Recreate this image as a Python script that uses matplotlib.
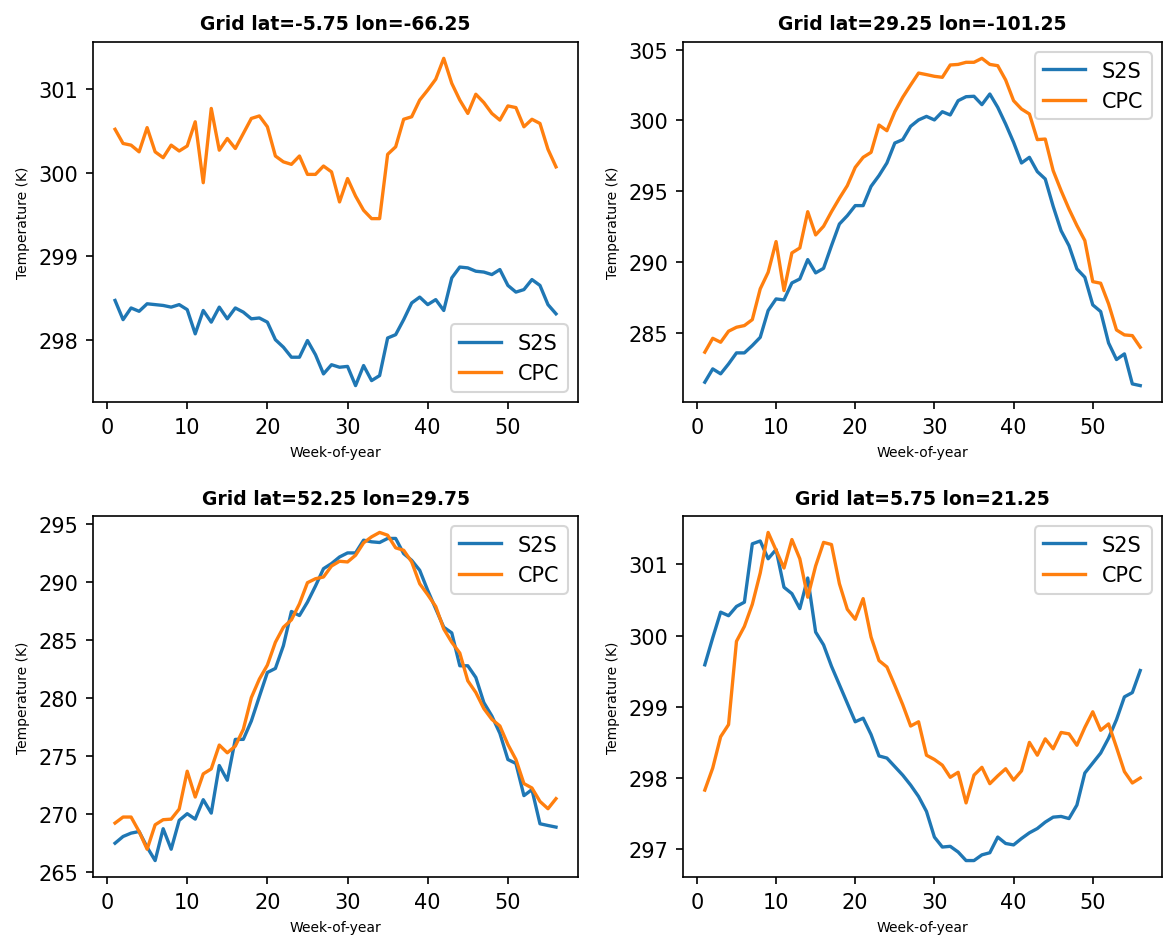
import numpy as np
import matplotlib
matplotlib.use("Agg")
import matplotlib.pyplot as plt

weeks = np.arange(1, 57)

titles = [
    "Grid lat=-5.75 lon=-66.25",
    "Grid lat=29.25 lon=-101.25",
    "Grid lat=52.25 lon=29.75",
    "Grid lat=5.75 lon=21.25",
]

# grid 1
s2s_1 = [298.47, 298.24, 298.38, 298.34, 298.43, 298.42, 298.41, 298.39, 298.42, 298.36,
         298.07, 298.35, 298.21, 298.39, 298.25, 298.38, 298.33, 298.25, 298.26, 298.21,
         298.00, 297.91, 297.79, 297.79, 297.99, 297.82, 297.59, 297.70, 297.67, 297.68,
         297.45, 297.69, 297.51, 297.57, 298.02, 298.06, 298.24, 298.44, 298.51, 298.42,
         298.48, 298.35, 298.74, 298.87, 298.86, 298.82, 298.81, 298.78, 298.84, 298.65,
         298.57, 298.60, 298.72, 298.65, 298.42, 298.31]
cpc_1 = [300.52, 300.35, 300.33, 300.25, 300.54, 300.25, 300.18, 300.33, 300.26, 300.32,
         300.61, 299.88, 300.77, 300.27, 300.41, 300.29, 300.47, 300.65, 300.68, 300.55,
         300.20, 300.13, 300.10, 300.20, 299.98, 299.98, 300.08, 300.01, 299.65, 299.93,
         299.72, 299.55, 299.45, 299.45, 300.22, 300.31, 300.64, 300.67, 300.87, 300.99,
         301.12, 301.37, 301.07, 300.87, 300.71, 300.94, 300.84, 300.71, 300.63, 300.80,
         300.78, 300.55, 300.64, 300.59, 300.28, 300.07]

# grid 2
s2s_2 = [281.52, 282.46, 282.11, 282.81, 283.59, 283.59, 284.11, 284.69, 286.58, 287.40,
         287.33, 288.53, 288.81, 290.18, 289.24, 289.56, 291.16, 292.69, 293.28, 293.99,
         293.99, 295.35, 296.11, 297.00, 298.41, 298.65, 299.59, 300.04, 300.29, 300.04,
         300.62, 300.39, 301.40, 301.68, 301.71, 301.12, 301.87, 300.93, 299.75, 298.46,
         297.00, 297.40, 296.39, 295.87, 293.94, 292.22, 291.16, 289.52, 288.93, 286.98,
         286.51, 284.29, 283.12, 283.52, 281.40, 281.28]
cpc_2 = [283.64, 284.62, 284.34, 285.12, 285.40, 285.52, 285.94, 288.11, 289.28, 291.45,
         287.99, 290.65, 291.00, 293.56, 291.92, 292.53, 293.56, 294.51, 295.40, 296.69,
         297.40, 297.75, 299.68, 299.28, 300.62, 301.64, 302.51, 303.35, 303.24, 303.12,
         303.05, 303.92, 303.96, 304.11, 304.11, 304.39, 303.96, 303.87, 302.86, 301.40,
         300.81, 300.46, 298.65, 298.69, 296.46, 295.05, 293.75, 292.58, 291.52, 288.62,
         288.51, 287.05, 285.21, 284.86, 284.81, 283.99]

# grid 3
s2s_3 = [267.46, 268.04, 268.33, 268.47, 267.11, 265.96, 268.71, 266.94, 269.43, 270.01,
         269.54, 271.22, 270.06, 274.17, 272.90, 276.43, 276.43, 278.02, 280.13, 282.21,
         282.56, 284.53, 287.48, 287.13, 288.29, 289.68, 291.18, 291.62, 292.19, 292.54,
         292.54, 293.64, 293.50, 293.44, 293.79, 293.79, 292.48, 291.90, 291.04, 289.30,
         287.71, 286.12, 285.63, 282.79, 282.79, 281.78, 279.61, 278.45, 276.95, 274.69,
         274.35, 271.57, 272.09, 269.14, 268.99, 268.85]
cpc_3 = [269.20, 269.72, 269.72, 268.47, 266.94, 269.05, 269.49, 269.54, 270.41, 273.68,
         271.45, 273.45, 273.88, 275.94, 275.27, 275.85, 277.30, 280.04, 281.64, 282.85,
         284.82, 286.12, 286.76, 288.14, 289.97, 290.31, 290.46, 291.41, 291.82, 291.76,
         292.34, 293.41, 293.93, 294.31, 294.07, 292.98, 292.77, 291.76, 289.88, 288.93,
         287.91, 285.97, 284.82, 283.89, 281.49, 280.48, 279.09, 278.16, 277.59, 275.99,
         274.69, 272.61, 272.23, 271.07, 270.44, 271.31]

# grid 4
s2s_4 = [299.59, 299.97, 300.33, 300.28, 300.41, 300.47, 301.29, 301.33, 301.08, 301.21,
         300.68, 300.59, 300.38, 300.81, 300.05, 299.87, 299.57, 299.31, 299.05, 298.79,
         298.84, 298.61, 298.31, 298.28, 298.16, 298.04, 297.90, 297.74, 297.53, 297.17,
         297.03, 297.04, 296.96, 296.84, 296.84, 296.92, 296.95, 297.17, 297.08, 297.06,
         297.15, 297.23, 297.29, 297.38, 297.45, 297.46, 297.43, 297.62, 298.07, 298.21,
         298.35, 298.56, 298.82, 299.14, 299.20, 299.51]
cpc_4 = [297.83, 298.14, 298.58, 298.75, 299.92, 300.13, 300.44, 300.88, 301.45, 301.20,
         300.95, 301.35, 301.08, 300.54, 300.98, 301.31, 301.28, 300.73, 300.37, 300.23,
         300.52, 299.98, 299.65, 299.56, 299.30, 299.03, 298.73, 298.79, 298.32, 298.26,
         298.18, 298.01, 298.08, 297.65, 298.04, 298.15, 297.92, 298.03, 298.13, 297.97,
         298.10, 298.50, 298.32, 298.55, 298.41, 298.64, 298.62, 298.46, 298.71, 298.93,
         298.67, 298.76, 298.43, 298.09, 297.93, 298.00]

s2s_all = [s2s_1, s2s_2, s2s_3, s2s_4]
cpc_all = [cpc_1, cpc_2, cpc_3, cpc_4]
legend_locs = ["lower right", "upper right", "upper right", "upper right"]

fig = plt.figure(figsize=(7.76, 6.2533), dpi=150)

# [left, bottom, width, height] for each panel
posicoes = [
    [0.0799, 0.5704, 0.4167, 0.3838],
    [0.5868, 0.5704, 0.4115, 0.3838],
    [0.0799, 0.0640, 0.4167, 0.3848],
    [0.5868, 0.0640, 0.4115, 0.3848],
]

for i in range(4):
    ax = fig.add_axes(posicoes[i])
    ax.plot(weeks, s2s_all[i], label="S2S", color="#1f77b4", linewidth=1.6)
    ax.plot(weeks, cpc_all[i], label="CPC", color="#ff7f0e", linewidth=1.6)
    ax.set_title(titles[i], fontsize=9, fontweight="bold")
    ax.set_xlabel("Week-of-year", fontsize=6.7)
    ax.set_ylabel("Temperature (K)", fontsize=6.7)
    ax.tick_params(labelsize=10)
    ax.set_xticks([0, 10, 20, 30, 40, 50])
    ax.legend(loc=legend_locs[i], fontsize=10)

fig.savefig("out.png", dpi=150)
